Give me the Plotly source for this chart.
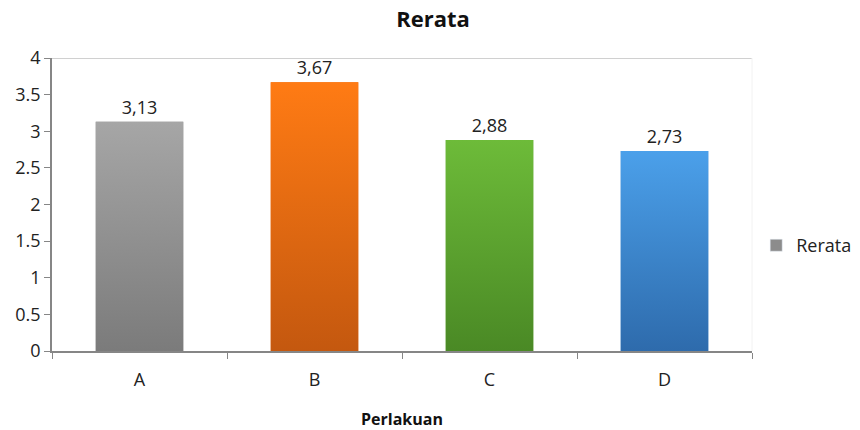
import plotly.graph_objects as go

categories = ["A", "B", "C", "D"]
values = [3.13, 3.67, 2.88, 2.73]
series_name = "Rerata"
y_ticks = [0, 0.5, 1, 1.5, 2, 2.5, 3, 3.5, 4]
top_colors = ["#a6a6a6", "#ff7b14", "#6dbb39", "#4ba0ea"]
bottom_colors = ["#7b7b7b", "#c4580f", "#4a8925", "#2e6bac"]
mid_colors = ["#909090", "#e56a12", "#5ba22f", "#3c85cb"]

xs = list(range(len(categories)))
bar_w = 0.5
labels = [f"{v:.2f}".replace(".", ",") for v in values]
FONT = "Open Sans"

fig = go.Figure()
fig.add_trace(go.Bar(
    x=xs, y=values, width=bar_w, name=series_name,
    marker=dict(color=mid_colors, line=dict(width=0)),
    text=labels, textposition="outside", cliponaxis=False,
    textfont=dict(family=FONT, size=18, color="#222222"),
    showlegend=False, hoverinfo="skip",
))
# gradient overlay per bar
for i, (x, v) in enumerate(zip(xs, values)):
    fig.add_trace(go.Scatter(
        x=[x - bar_w / 2, x + bar_w / 2, x + bar_w / 2, x - bar_w / 2, x - bar_w / 2],
        y=[0, 0, v, v, 0], mode="lines", fill="toself",
        line=dict(width=0),
        fillgradient=dict(type="vertical", colorscale=[[0, bottom_colors[i]], [1, top_colors[i]]]),
        showlegend=False, hoverinfo="skip",
    ))
# legend entry
fig.add_trace(go.Bar(
    x=[None], y=[None], name=series_name,
    marker=dict(color="#8c8c8c"), showlegend=True,
))

fig.update_layout(
    width=860, height=430,
    margin=dict(l=52, r=108, t=58, b=79, autoexpand=False),
    paper_bgcolor="white", plot_bgcolor="white",
    font=dict(family=FONT, size=18, color="#222222"),
    title=dict(text="<b>Rerata</b>", x=433 / 860, xanchor="center", y=1 - 19 / 430, yanchor="middle",
               font=dict(family=FONT, size=22, color="#111111")),
    showlegend=True,
    legend=dict(x=0.006, xref="paper", xanchor="left", y=0.36, yanchor="middle",
                font=dict(family=FONT, size=18, color="#222222"),
                itemwidth=30, bgcolor="rgba(0,0,0,0)"),
    bargap=0.5,
    shapes=[
        dict(type="line", xref="paper", yref="y", x0=0, x1=1, y0=4, y1=4,
             line=dict(color="#d0d0d0", width=2), layer="below"),
        dict(type="line", xref="paper", yref="paper", x0=1, x1=1, y0=0, y1=1,
             line=dict(color="#f2f2f2", width=1), layer="below"),
    ],
)
fig.update_layout(legend=dict(x=1.006))
fig.update_xaxes(
    range=[-0.5, len(categories) - 0.5],
    tickvals=xs, ticktext=categories, ticks="outside", ticklen=12, tickcolor="rgba(0,0,0,0)",
    minor=dict(tickvals=[x - 0.5 for x in xs] + [len(categories) - 0.5], ticks="outside",
               ticklen=6, tickcolor="#868686", tickwidth=1),
    showline=True, linecolor="#868686", linewidth=1.5,
    showgrid=False, zeroline=False,
    tickfont=dict(family=FONT, size=18, color="#222222"),
    title=dict(text="<b>Perlakuan</b>", font=dict(family=FONT, size=16, color="#111111"), standoff=26),
)
fig.update_yaxes(
    range=[0, 4], tickvals=y_ticks, ticktext=[str(t) for t in y_ticks],
    ticks="outside", ticklen=6, tickcolor="#868686",
    showline=True, linecolor="#868686", linewidth=1.5,
    showgrid=False, zeroline=False,
    tickfont=dict(family=FONT, size=18, color="#222222"),
)

fig.write_html("out.html")
